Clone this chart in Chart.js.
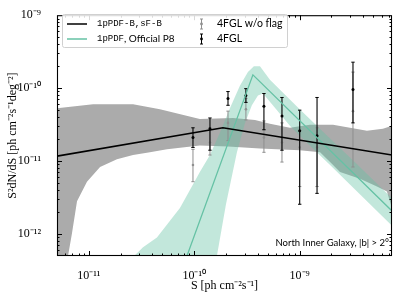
<!DOCTYPE html>
<html><head><meta charset="utf-8">
<script src="https://cdn.jsdelivr.net/npm/chart.js@4.4.0/dist/chart.umd.min.js"></script>
<style>html,body{margin:0;padding:0;background:#fff;} #c{display:block;}</style>
</head><body>
<canvas id="c" width="399" height="298"></canvas>
<script>
// ---------- data ----------
const xTickValues = [1e-11, 1e-10, 1e-9];
const xTickLabels = ['10⁻¹¹', '10⁻¹⁰', '10⁻⁹'];
const yTickValues = [1e-12, 1e-11, 1e-10, 1e-9];
const yTickLabels = ['10⁻¹²', '10⁻¹¹', '10⁻¹⁰', '10⁻⁹'];

// 1pPDF-B,sF-B best-fit broken power law
const blackLineS = [5e-12, 1.87e-10, 7.5e-9];
const blackLineV = [1.17e-11, 2.86e-11, 1.21e-11];
// 1pPDF, Official P8 best-fit broken power law
const greenLineS = [8.53e-11, 3.60e-10, 7.5e-9];
const greenLineV = [5e-13, 1.52e-10, 2.07e-12];

// gray uncertainty band (1pPDF-B,sF-B)
const grayUpperS = [5.0e-12, 7.41e-12, 1.10e-11, 2.63e-11, 4.73e-11, 1.13e-10, 2.33e-10, 3.77e-10, 5.22e-10, 8.07e-10, 1.25e-9, 2.07e-9, 4.34e-9, 6.15e-9, 7.5e-9];
const grayUpperV = [5.31e-11, 5.65e-11, 6.01e-11, 6.01e-11, 5.14e-11, 3.78e-11, 3.90e-11, 3.66e-11, 3.24e-11, 2.86e-11, 3.14e-11, 3.14e-11, 2.61e-11, 2.77e-11, 3.04e-11];
const grayLowerS = [5.0e-12, 6.08e-12, 6.36e-12, 6.93e-12, 7.74e-12, 9.62e-12, 1.28e-11, 1.85e-11, 2.63e-11, 3.80e-11, 5.52e-11, 1.13e-10, 2.09e-10, 4.20e-10, 1.00e-9, 1.56e-9, 1.94e-9, 2.41e-9, 3.72e-9, 5.40e-9, 6.71e-9, 7.16e-9, 7.5e-9];
const grayLowerV = [4e-13, 4e-13, 5.0e-13, 1.02e-12, 2.82e-12, 5.22e-12, 8.30e-12, 1.06e-11, 1.21e-11, 1.32e-11, 1.45e-11, 1.64e-11, 1.59e-11, 1.49e-11, 1.41e-11, 1.32e-11, 9.70e-12, 7.11e-12, 5.73e-12, 4.48e-12, 3.84e-12, 2.82e-12, 2.27e-12];

// green uncertainty band (Official P8)
const tealUpperS = [2.3e-11, 3.27e-11, 4.43e-11, 5.89e-11, 7.32e-11, 9.73e-11, 1.13e-10, 1.41e-10, 1.75e-10, 2.18e-10, 2.71e-10, 3.23e-10, 3.68e-10, 4.20e-10, 5.22e-10, 1.00e-9, 1.94e-9, 3.72e-9, 7.5e-9];
const tealUpperV = [4e-13, 6.59e-13, 8.98e-13, 1.52e-12, 2.27e-12, 4.76e-12, 7.11e-12, 1.21e-11, 2.45e-11, 5.31e-11, 1.08e-10, 1.66e-10, 2.00e-10, 2.00e-10, 1.30e-10, 5.14e-11, 2.04e-11, 8.30e-12, 3.09e-12];
const tealLowerS = [1.6e-10, 1.64e-10, 2.00e-10, 2.54e-10, 3.03e-10, 3.52e-10, 4.02e-10, 4.49e-10, 8.07e-10, 1.00e-9, 1.94e-9, 3.72e-9, 7.5e-9];
const tealLowerV = [4e-13, 5.0e-13, 2.56e-12, 1.32e-11, 3.34e-11, 5.82e-11, 7.93e-11, 8.44e-11, 3.04e-11, 2.23e-11, 8.84e-12, 3.50e-12, 1.30e-12];

// 4FGL source counts
const fglS = [9.73e-11, 1.41e-10, 2.09e-10, 3.09e-10, 4.58e-10, 6.79e-10, 1.00e-9, 1.46e-9, 3.20e-9];
const fglV = [2.10e-11, 2.77e-11, 7.23e-11, 7.93e-11, 5.65e-11, 4.14e-11, 2.61e-11, 2.23e-11, 9.55e-11];
const fglHi = [2.86e-11, 3.90e-11, 8.98e-11, 9.85e-11, 8.44e-11, 7.45e-11, 4.99e-11, 7.45e-11, 2.27e-10];
const fglLo = [1.54e-11, 1.41e-11, 5.82e-11, 6.38e-11, 2.69e-11, 1.41e-11, 2.56e-12, 3.61e-12, 3.34e-11];
// 4FGL w/o flag
const noflagV = [8.84e-12, 1.80e-11, 3.34e-11, 5.14e-11, 2.10e-11, 1.80e-11, 1.54e-11, 1.54e-11, 4.84e-11];
const noflagHi = [1.45e-11, 2.86e-11, 4.84e-11, 7.23e-11, 3.55e-11, 3.34e-11, 2.61e-11, 2.86e-11, 1.66e-10];
const noflagLo = [5.22e-12, 1.21e-11, 1.91e-11, 3.66e-11, 1.32e-11, 9.70e-12, 4.48e-12, 4.48e-12, 8.30e-12];

// ---------- helpers ----------
const pts = (xs, ys) => xs.map((x, i) => ({x: x, y: ys[i]}));
const polygon = (ux, uy, lx, ly) => pts(ux, uy).concat(pts(lx, ly).reverse());
const whiskers = (xs, lo, hi) => {
  const d = [];
  xs.forEach((x, i) => { d.push({x: x, y: lo[i]}, {x: x, y: hi[i]}, {x: x, y: null}); });
  return d;
};
const TEAL = '#66c2a5';
const GRAYBAR = '#8f8f8f';

const frameAndText = {
  id: 'frameAndText',
  afterDatasetsDraw(chart) {
    const {ctx, chartArea: a, scales: {x, y}} = chart;
    ctx.save();
    ctx.strokeStyle = '#000';
    ctx.lineWidth = 1;
    const seg = (x1, y1, x2, y2) => { ctx.beginPath(); ctx.moveTo(x1, y1); ctx.lineTo(x2, y2); ctx.stroke(); };
    for (let e = -13; e <= -8; e++) {
      for (let m = 1; m <= 9; m++) {
        const v = m * Math.pow(10, e);
        const L = m === 1 ? 5 : 2.5;
        if (v > x.min * 1.0001 && v < x.max * 0.9999) {
          const px = Math.round(x.getPixelForValue(v)) + 0.5;
          seg(px, a.bottom, px, a.bottom - L);
          seg(px, a.top, px, a.top + L);
        }
        if (v > y.min * 1.0001 && v < y.max * 0.9999) {
          const py = Math.round(y.getPixelForValue(v)) + 0.5;
          seg(a.left, py, a.left + L, py);
          seg(a.right, py, a.right - L, py);
        }
      }
    }
    ctx.lineWidth = 1.1;
    ctx.strokeRect(a.left + 0.5, a.top + 0.5, a.right - a.left - 1, a.bottom - a.top - 1);

    // annotation
    ctx.fillStyle = '#000';
    ctx.font = '9.5px Lato';
    ctx.textAlign = 'right';
    ctx.textBaseline = 'middle';
    ctx.fillText('North Inner Galaxy, |b| > 2°', a.right - 3, a.bottom - 13);

    // legend
    const bx = 62.5, by = 14.5, bw = 225, bh = 33;
    ctx.beginPath();
    ctx.roundRect(bx, by, bw, bh, 2);
    ctx.fillStyle = 'rgba(255,255,255,0.85)';
    ctx.fill();
    ctx.strokeStyle = '#d0d0d0';
    ctx.lineWidth = 1;
    ctx.stroke();
    const r1 = 24, r2 = 39;
    ctx.lineWidth = 1.5;
    ctx.strokeStyle = '#000';
    seg(67, r1, 87, r1);
    ctx.strokeStyle = TEAL;
    seg(67, r2, 87, r2);
    ctx.textAlign = 'left';
    ctx.fillStyle = '#000';
    ctx.font = '9px "Liberation Mono"';
    ctx.fillText('1pPDF-B,sF-B', 97, r1);
    ctx.fillText('1pPDF', 97, r2);
    const w = ctx.measureText('1pPDF').width;
    ctx.font = '10px Lato';
    ctx.fillText(', Official P8', 97 + w, r2);
    // errorbar symbols
    const ebar = (cx, cy, col) => {
      ctx.strokeStyle = col; ctx.fillStyle = col; ctx.lineWidth = 1;
      seg(cx, cy - 5, cx, cy + 5);
      seg(cx - 1.5, cy - 5, cx + 1.5, cy - 5);
      seg(cx - 1.5, cy + 5, cx + 1.5, cy + 5);
      ctx.beginPath(); ctx.arc(cx, cy, 1.4, 0, Math.PI * 2); ctx.fill();
    };
    ebar(201.5, r1, GRAYBAR);
    ebar(201.5, r2, '#000');
    ctx.fillStyle = '#000';
    ctx.font = '10.5px Lato';
    ctx.fillText('4FGL w/o flag', 217, r1);
    ctx.fillText('4FGL', 217, r2);
    ctx.restore();
  }
};

new Chart(document.getElementById('c'), {
  type: 'scatter',
  data: {
    datasets: [
      {label: '1pPDF-B,sF-B', data: pts(blackLineS, blackLineV), showLine: true, borderColor: '#000', borderWidth: 1.6, pointRadius: 0, order: 1},
      {label: '1pPDF, Official P8', data: pts(greenLineS, greenLineV), showLine: true, borderColor: TEAL, borderWidth: 1.3, pointRadius: 0, order: 2},
      {label: '4FGL', data: pts(fglS, fglV), pointStyle: 'circle', pointRadius: 1.5, backgroundColor: '#000', borderColor: '#000', borderWidth: 0, order: 3},
      {label: '4FGL err', data: whiskers(fglS, fglLo, fglHi), showLine: true, borderColor: '#000', borderWidth: 1.1, pointStyle: 'line', pointRadius: 1.7, pointBorderColor: '#000', pointBorderWidth: 1, order: 4},
      {label: '4FGL w/o flag', data: pts(fglS, noflagV), pointStyle: 'circle', pointRadius: 1.3, backgroundColor: GRAYBAR, borderColor: GRAYBAR, borderWidth: 0, order: 5},
      {label: '4FGL w/o flag err', data: whiskers(fglS, noflagLo, noflagHi), showLine: true, borderColor: GRAYBAR, borderWidth: 1, pointStyle: 'line', pointRadius: 1.6, pointBorderColor: GRAYBAR, pointBorderWidth: 1, order: 6},
      {label: 'P8 band', data: polygon(tealUpperS, tealUpperV, tealLowerS, tealLowerV), showLine: true, borderWidth: 0, borderColor: 'rgba(0,0,0,0)', backgroundColor: 'rgba(102,194,165,0.4)', fill: 'shape', pointRadius: 0, order: 7},
      {label: 'B band', data: polygon(grayUpperS, grayUpperV, grayLowerS, grayLowerV), showLine: true, borderWidth: 0, borderColor: 'rgba(0,0,0,0)', backgroundColor: '#ababab', fill: 'shape', pointRadius: 0, order: 8}
    ]
  },
  options: {
    responsive: false,
    animation: false,
    devicePixelRatio: 1,
    layout: {padding: {left: 0, right: 7, top: 10, bottom: 0}},
    plugins: {legend: {display: false}, tooltip: {enabled: false}},
    scales: {
      x: {
        type: 'logarithmic', position: 'bottom', min: 5e-12, max: 7.5e-9,
        grid: {display: false}, border: {display: false},
        afterBuildTicks: (s) => { s.ticks = xTickValues.map(v => ({value: v})); },
        afterFit: (s) => { s.height = 42; },
        ticks: {
          padding: 5, color: '#000', maxRotation: 0, autoSkip: false,
          font: {family: 'Liberation Serif', size: 12},
          callback: (v) => { const i = xTickValues.indexOf(v); return i >= 0 ? xTickLabels[i] : ''; }
        },
        title: {display: true, text: 'S [ph cm⁻²s⁻¹]', color: '#000', font: {family: 'Liberation Serif', size: 12}, padding: {top: 0, bottom: 5}}
      },
      y: {
        type: 'logarithmic', position: 'left', min: 5e-13, max: 1e-9,
        grid: {display: false}, border: {display: false},
        afterBuildTicks: (s) => { s.ticks = yTickValues.map(v => ({value: v})); },
        afterFit: (s) => { s.width = 57; },
        ticks: {
          padding: 8, color: '#000', autoSkip: false,
          font: {family: 'Liberation Serif', size: 12},
          callback: (v) => { const i = yTickValues.indexOf(v); return i >= 0 ? yTickLabels[i] : ''; }
        },
        title: {display: true, text: 'S²dN/dS [ph cm⁻²s⁻¹deg⁻²]', color: '#000', font: {family: 'Liberation Serif', size: 12}, padding: {top: 6, bottom: 0}}
      }
    }
  },
  plugins: [frameAndText]
});
</script>
</body></html>
